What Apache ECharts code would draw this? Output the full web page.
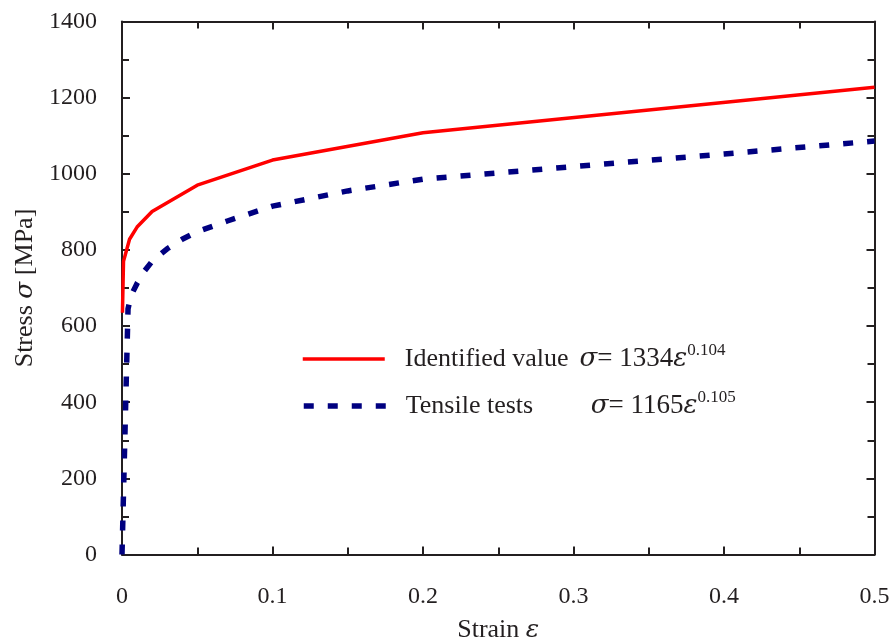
<!DOCTYPE html>
<html>
<head>
<meta charset="utf-8">
<script src="https://cdn.jsdelivr.net/npm/echarts@6/dist/echarts.min.js"></script>
<style>
  html, body { margin: 0; padding: 0; background: #fff; }
  #chart { width: 893px; height: 641px; }
</style>
</head>
<body>
<div id="chart"></div>
<script>
// Flow stress curves: identified power law vs. tensile test data
const strainIdentified = [0.0003, 0.001, 0.005, 0.01, 0.02, 0.05, 0.1, 0.2, 0.5];
const stressIdentified = [635, 770, 828, 860, 901, 970, 1036, 1108, 1227];

const strainTensile = [0, 0.004, 0.006, 0.01, 0.015, 0.02, 0.03, 0.04, 0.05, 0.07, 0.1, 0.15, 0.2, 0.3, 0.4, 0.5];
const stressTensile = [0, 645, 680, 712, 745, 770, 803, 828, 848, 876, 915, 955, 986, 1019, 1052, 1086];

const xTicks = [0, 0.1, 0.2, 0.3, 0.4, 0.5];
const yTicks = [0, 200, 400, 600, 800, 1000, 1200, 1400];

const seriesNames = ['Identified value', 'Tensile tests'];

const INK = '#231f20';
const RED = '#ff0000';
const NAVY = '#000080';
const SERIF = '"Liberation Serif", "Times New Roman", serif';
const GREEK = '"DejaVu Serif", "Liberation Serif", serif';

const redLine = { color: RED, width: 3.5 };
const navyLine = { color: NAVY, width: 5.5, type: [10, 14], cap: 'butt' };

const pairs = (xs, ys) => xs.map((x, i) => [x, ys[i]]);

const richText = {
  g: { width: 15 },
  h: { width: 11 },
  n: { fontFamily: SERIF, fontSize: 26, color: INK, lineHeight: 34 },
  e: { fontFamily: SERIF, fontSize: 27, color: INK, lineHeight: 34 },
  t: { fontFamily: SERIF, fontSize: 26, color: INK, lineHeight: 34, width: 185 },
  s: { fontFamily: GREEK, fontSize: 26, fontStyle: 'italic', color: INK, lineHeight: 34 },
  p: { fontFamily: SERIF, fontSize: 17, color: INK, lineHeight: 16, verticalAlign: 'top' }
};

const baseX = {
  type: 'value', min: xTicks[0], max: xTicks[xTicks.length - 1], interval: 0.1,
  axisLine: { show: true, onZero: false, lineStyle: { color: INK, width: 2 } },
  axisTick: { show: true, inside: true, length: 8, lineStyle: { color: INK, width: 2 } },
  minorTick: { show: true, splitNumber: 2, length: 7, lineStyle: { color: INK, width: 2 } },
  splitLine: { show: false }
};
const baseY = {
  type: 'value', min: yTicks[0], max: yTicks[yTicks.length - 1], interval: 200,
  axisLine: { show: true, onZero: false, lineStyle: { color: INK, width: 2 } },
  axisTick: { show: true, inside: true, length: 8, lineStyle: { color: INK, width: 2 } },
  minorTick: { show: true, splitNumber: 2, length: 7, lineStyle: { color: INK, width: 2 } },
  splitLine: { show: false }
};

const chart = echarts.init(document.getElementById('chart'), null, { renderer: 'canvas' });

const legendBox = (name, top, text, lineStyle) => ({
  data: [name],
  left: 301, top: top, padding: 0,
  itemWidth: 82, itemHeight: 20,
  itemStyle: { opacity: 0 },
  lineStyle: lineStyle,
  formatter: () => text,
  textStyle: { rich: richText }
});

chart.setOption({
  animation: false,
  backgroundColor: '#fff',
  grid: { left: 122, top: 21.5, right: 18.5, bottom: 86.5, containLabel: false, outerBoundsMode: 'none' },
  xAxis: [
    Object.assign({}, baseX, {
      position: 'bottom',
      name: '{a|Strain }{s|ε}',
      nameLocation: 'middle',
      nameGap: 63,
      nameTextStyle: {
        rich: {
          a: { fontFamily: SERIF, fontSize: 26, color: INK },
          s: { fontFamily: GREEK, fontSize: 25, fontStyle: 'italic', color: INK }
        }
      },
      axisLabel: {
        margin: 30, fontFamily: SERIF, fontSize: 24, color: INK,
        formatter: v => String(v)
      }
    }),
    Object.assign({}, baseX, { position: 'top', axisLabel: { show: false } })
  ],
  yAxis: [
    Object.assign({}, baseY, {
      position: 'left',
      name: '{a|Stress }{s|σ}{a| [MPa]}',
      nameLocation: 'middle',
      nameGap: 84,
      nameRotate: 90,
      nameTextStyle: {
        rich: {
          a: { fontFamily: SERIF, fontSize: 26, color: INK },
          s: { fontFamily: GREEK, fontSize: 25, fontStyle: 'italic', color: INK }
        }
      },
      axisLabel: {
        margin: 25, fontFamily: SERIF, fontSize: 24, color: INK,
        formatter: v => String(v)
      }
    }),
    Object.assign({}, baseY, { position: 'right', axisLabel: { show: false } })
  ],
  legend: [
    legendBox(seriesNames[0], 342,
      '{g| }{n|Identified value}{h| }{s|σ}{e|= 1334}{s|ε}{p|0.104}', redLine),
    legendBox(seriesNames[1], 389,
      '{g| }{t|Tensile tests}{s|σ}{e|= 1165}{s|ε}{p|0.105}', navyLine)
  ],
  series: [
    {
      name: seriesNames[1],
      type: 'line',
      data: pairs(strainTensile, stressTensile),
      showSymbol: false, symbol: 'none',
      lineStyle: navyLine,
      itemStyle: { color: NAVY },
      z: 2
    },
    {
      name: seriesNames[0],
      type: 'line',
      data: pairs(strainIdentified, stressIdentified),
      showSymbol: false, symbol: 'none',
      lineStyle: redLine,
      itemStyle: { color: RED },
      z: 3
    }
  ]
});
</script>
</body>
</html>
